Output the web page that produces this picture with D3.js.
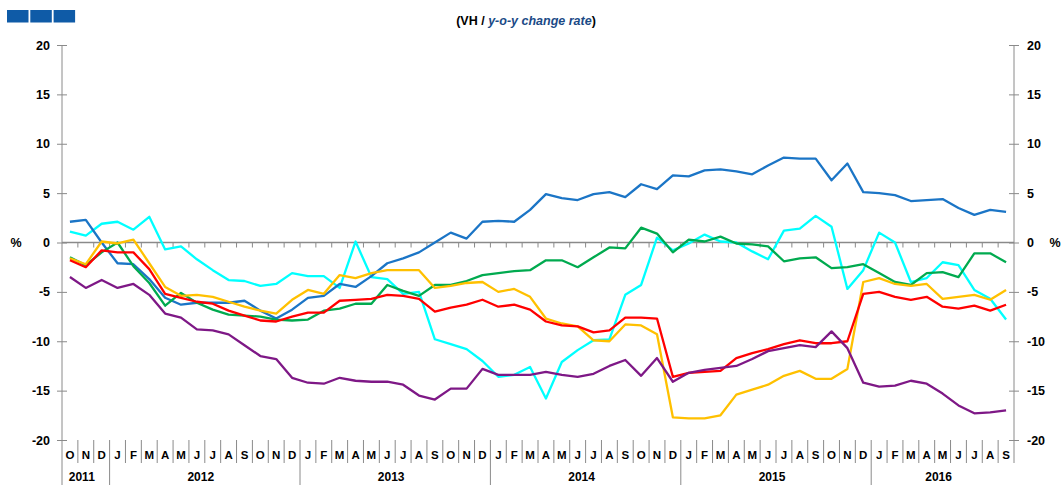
<!DOCTYPE html>
<html>
<head>
<meta charset="utf-8">
<script src="https://cdn.jsdelivr.net/npm/d3@7"></script>
<style>
    body { margin: 0; background: #fff; }
    svg { display: block; font-family: "Liberation Sans", Arial, sans-serif; font-weight: bold; }
</style>
</head>
<body>
<div class="graph"></div>
<script>
const monthLetters = [
    "O", "N", "D",
    "J", "F", "M", "A", "M", "J", "J", "A", "S", "O", "N", "D",
    "J", "F", "M", "A", "M", "J", "J", "A", "S", "O", "N", "D",
    "J", "F", "M", "A", "M", "J", "J", "A", "S", "O", "N", "D",
    "J", "F", "M", "A", "M", "J", "J", "A", "S", "O", "N", "D",
    "J", "F", "M", "A", "M", "J", "J", "A", "S"
];
const years = ["2011", "2012", "2013", "2014", "2015", "2016"];
const monthsPerYear = [3, 12, 12, 12, 12, 9];
const yTicks = [-20, -15, -10, -5, 0, 5, 10, 15, 20];

const blue = [2.1, 2.3, 0.0, -2.1, -2.2, -3.7, -5.6, -6.3, -6.1, -6.1, -6.1, -5.9, -6.9, -7.7, -6.8,
    -5.6, -5.4, -4.2, -4.5, -3.4, -2.1, -1.6, -1.0, 0.0, 1.0, 0.4, 2.1, 2.2, 2.1, 3.3,
    4.9, 4.5, 4.3, 4.9, 5.1, 4.6, 5.9, 5.4, 6.8, 6.7, 7.3, 7.4, 7.2, 6.9, 7.8,
    8.6, 8.5, 8.5, 6.3, 8.0, 5.1, 5.0, 4.8, 4.2, 4.3, 4.4, 3.5, 2.8, 3.3, 3.1];
const cyan = [1.1, 0.7, 1.9, 2.1, 1.3, 2.6, -0.7, -0.4, -1.7, -2.8, -3.8, -3.9, -4.4, -4.2, -3.1,
    -3.4, -3.4, -4.6, 0.1, -3.5, -3.7, -5.2, -5.0, -9.8, -10.3, -10.8, -12.0, -13.6, -13.4, -12.6,
    -15.8, -12.1, -10.9, -9.9, -9.8, -5.3, -4.3, 0.5, -0.8, -0.1, 0.8, 0.1, 0.0, -0.9, -1.7,
    1.2, 1.4, 2.7, 1.6, -4.7, -2.8, 1.0, 0.0, -4.0, -3.6, -2.0, -2.3, -4.8, -5.7, -7.8];
const green = [-1.5, -2.3, -1.0, 0.0, -2.4, -4.1, -6.4, -5.1, -6.1, -6.8, -7.3, -7.4, -7.5, -7.8, -7.9,
    -7.8, -6.9, -6.7, -6.2, -6.2, -4.3, -4.9, -5.4, -4.3, -4.3, -3.9, -3.3, -3.1, -2.9, -2.8,
    -1.8, -1.8, -2.5, -1.5, -0.5, -0.6, 1.5, 0.9, -1.0, 0.3, 0.1, 0.6, -0.1, -0.2, -0.4,
    -1.9, -1.6, -1.5, -2.6, -2.5, -2.2, -3.1, -4.0, -4.3, -3.1, -3.0, -3.5, -1.1, -1.1, -2.0];
const yellow = [-1.6, -2.2, 0.1, -0.1, 0.3, -2.1, -4.5, -5.4, -5.3, -5.5, -6.0, -6.5, -6.9, -7.2, -5.8,
    -4.8, -5.2, -3.3, -3.6, -3.1, -2.8, -2.8, -2.8, -4.6, -4.4, -4.1, -4.0, -5.0, -4.7, -5.5,
    -7.7, -8.2, -8.5, -9.9, -10.0, -8.3, -8.4, -9.3, -17.7, -17.8, -17.8, -17.5, -15.4, -14.9, -14.4,
    -13.5, -13.0, -13.8, -13.8, -12.8, -4.0, -3.6, -4.2, -4.4, -4.2, -5.7, -5.5, -5.3, -5.8, -4.8];
const red = [-1.8, -2.5, -0.8, -1.0, -1.0, -2.7, -5.2, -5.6, -6.0, -6.2, -6.9, -7.4, -7.9, -8.0, -7.5,
    -7.1, -7.1, -5.9, -5.8, -5.7, -5.3, -5.4, -5.7, -7.0, -6.6, -6.3, -5.8, -6.5, -6.3, -6.8,
    -8.0, -8.4, -8.5, -9.1, -8.9, -7.6, -7.6, -7.7, -13.6, -13.2, -13.1, -13.0, -11.7, -11.2, -10.8,
    -10.3, -9.9, -10.2, -10.2, -10.0, -5.2, -5.0, -5.5, -5.8, -5.5, -6.5, -6.7, -6.4, -6.9, -6.3];
const purple = [-3.5, -4.6, -3.8, -4.6, -4.2, -5.3, -7.2, -7.6, -8.8, -8.9, -9.3, -10.4, -11.5, -11.8, -13.7,
    -14.2, -14.3, -13.7, -14.0, -14.1, -14.1, -14.4, -15.5, -15.9, -14.8, -14.8, -12.8, -13.4, -13.4, -13.4,
    -13.1, -13.4, -13.6, -13.3, -12.5, -11.9, -13.5, -11.7, -14.1, -13.2, -12.9, -12.7, -12.5, -11.8, -11.0,
    -10.7, -10.4, -10.6, -9.0, -10.7, -14.2, -14.6, -14.5, -14.0, -14.3, -15.3, -16.5, -17.3, -17.2, -17.0];

const series = [
    { values: cyan, color: "#00FFFF" },
    { values: blue, color: "#1B75C6" },
    { values: green, color: "#00AA4F" },
    { values: yellow, color: "#FFC000" },
    { values: red, color: "#FF0000" },
    { values: purple, color: "#7E1886" },
];

const width = 1061;
const height = 485;
const plotLeft = 62;
const plotRight = 1014;
const plotTop = 45;
const plotBottom = 440;
const axisColor = "#8a8a8a";

const svg = d3.select(".graph")
        .append("svg")
        .attr("width", width)
        .attr("height", height);

const x = d3.scaleBand()
        .domain(d3.range(monthLetters.length))
        .range([plotLeft, plotRight])
        .paddingInner(0)
        .paddingOuter(0);

const y = d3.scaleLinear()
        .domain([-20, 20])
        .range([plotBottom, plotTop]);

// logo blocks, top left
svg.selectAll("rect.logo")
        .data([0, 1, 2]).enter()
        .append("rect")
        .attr("class", "logo")
        .attr("x", d => 7 + d * 23.3)
        .attr("y", 10)
        .attr("width", 21.5)
        .attr("height", 12.5)
        .attr("fill", "#0F5BA7");

// title
const title = svg.append("text")
        .attr("x", 526)
        .attr("y", 25)
        .attr("text-anchor", "middle")
        .attr("font-size", 12.5)
        .attr("fill", "#000");
title.append("tspan").text("(VH / ");
title.append("tspan").attr("font-style", "italic").attr("fill", "#1A4A86").text("y-o-y change rate");
title.append("tspan").text(")");

// y axes
const fmt = d => String(d);
const leftAxis = svg.append("g")
        .attr("transform", `translate(${plotLeft},0)`)
        .call(d3.axisLeft(y).tickValues(yTicks).tickFormat(fmt).tickSize(5).tickSizeOuter(0).tickPadding(7));
const rightAxis = svg.append("g")
        .attr("transform", `translate(${plotRight},0)`)
        .call(d3.axisRight(y).tickValues(yTicks).tickFormat(fmt).tickSize(5).tickSizeOuter(0).tickPadding(8));

[leftAxis, rightAxis].forEach((g, k) => {
    g.select(".domain").remove();
    g.selectAll(".tick line")
            .attr("x1", k === 0 ? 5 : -5)
            .attr("stroke", axisColor);
    g.selectAll(".tick text")
            .attr("font-size", 12.5)
            .attr("font-weight", "bold")
            .attr("font-family", "Liberation Sans, Arial, sans-serif")
            .attr("fill", "#000");
});

svg.append("line")
        .attr("x1", plotLeft).attr("x2", plotLeft)
        .attr("y1", plotTop).attr("y2", height)
        .attr("stroke", axisColor);
svg.append("line")
        .attr("x1", plotRight).attr("x2", plotRight)
        .attr("y1", plotTop).attr("y2", plotBottom + 23)
        .attr("stroke", axisColor);

// % labels
svg.append("text").attr("x", 16).attr("y", y(0) + 4.5)
        .attr("text-anchor", "middle").attr("font-size", 12.5).text("%");
svg.append("text").attr("x", 1055).attr("y", y(0) + 4.5)
        .attr("text-anchor", "middle").attr("font-size", 12.5).text("%");

// zero line with month ticks
svg.append("line")
        .attr("x1", plotLeft).attr("x2", plotRight)
        .attr("y1", y(0)).attr("y2", y(0))
        .attr("stroke", axisColor)
        .attr("stroke-width", 1.5);

const boundaries = d3.range(1, monthLetters.length).map(i => x(i));

svg.selectAll("line.zerotick")
        .data(boundaries).enter()
        .append("line")
        .attr("class", "zerotick")
        .attr("x1", d => d).attr("x2", d => d)
        .attr("y1", y(0)).attr("y2", y(0) + 5)
        .attr("stroke", axisColor);

// month separators and labels
const yearStarts = Array.from(d3.cumsum(monthsPerYear));
svg.selectAll("line.msep")
        .data(d3.range(1, monthLetters.length)).enter()
        .append("line")
        .attr("class", "msep")
        .attr("x1", d => x(d)).attr("x2", d => x(d))
        .attr("y1", plotBottom)
        .attr("y2", d => yearStarts.includes(d) ? height : plotBottom + 23)
        .attr("stroke", axisColor);

svg.selectAll("text.month")
        .data(monthLetters).enter()
        .append("text")
        .attr("class", "month")
        .attr("x", (_, i) => x(i) + x.bandwidth() / 2)
        .attr("y", plotBottom + 19)
        .attr("text-anchor", "middle")
        .attr("font-size", 11.5)
        .text(d => d);

svg.selectAll("text.year")
        .data(years).enter()
        .append("text")
        .attr("class", "year")
        .attr("x", (_, i) => {
            const start = i === 0 ? 0 : yearStarts[i - 1];
            return (x(start) + x(start + monthsPerYear[i] - 1) + x.bandwidth()) / 2 - 4;
        })
        .attr("y", plotBottom + 41)
        .attr("text-anchor", "middle")
        .attr("font-size", 12)
        .text(d => d);

// series lines
const line = d3.line()
        .x((_, i) => x(i) + x.bandwidth() / 2)
        .y(d => y(d));

svg.selectAll("path.series")
        .data(series).enter()
        .append("path")
        .attr("class", "series")
        .attr("d", d => line(d.values))
        .attr("fill", "none")
        .attr("stroke", d => d.color)
        .attr("stroke-width", 2.3)
        .attr("stroke-linejoin", "round");
</script>
</body>
</html>
